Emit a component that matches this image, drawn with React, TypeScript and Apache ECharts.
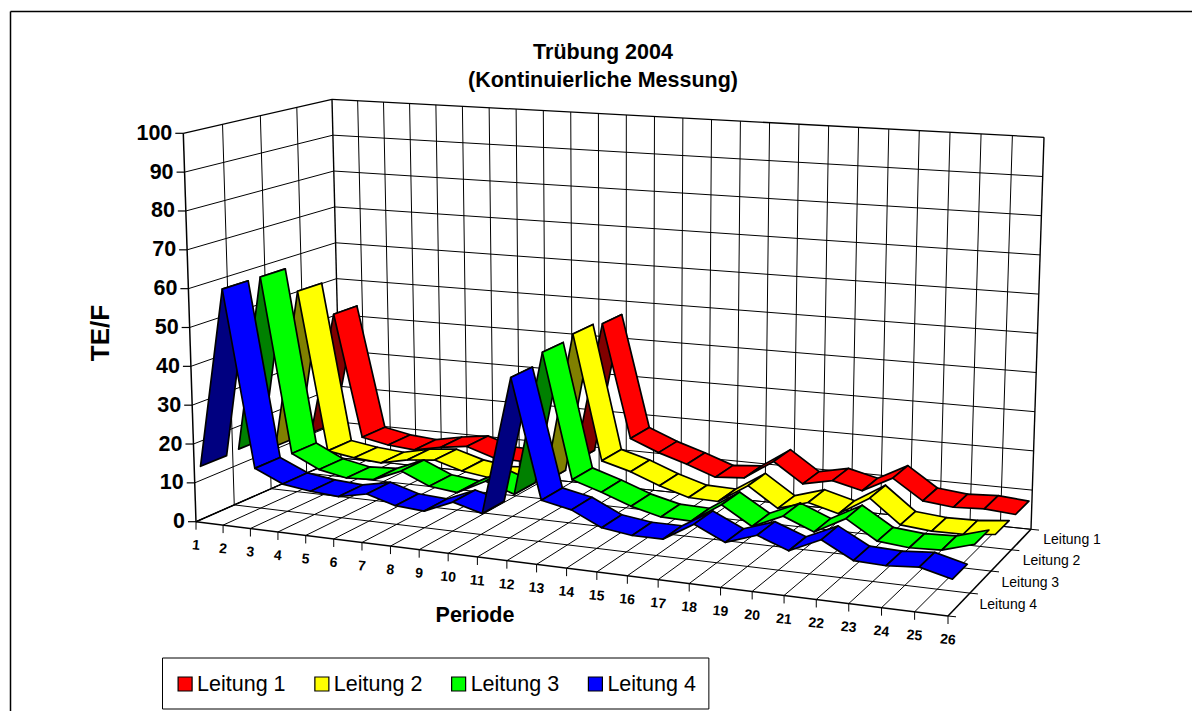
import React, { useEffect, useRef } from "react";
import * as echarts from "echarts";

const periods = Array.from({ length: 26 }, (_, i) => String(i + 1));
const seriesNames = ["Leitung 1", "Leitung 2", "Leitung 3", "Leitung 4"];
const valueTicks = [0, 10, 20, 30, 40, 50, 60, 70, 80, 90, 100];

const leitung1 = [10.3, 43.5, 10.6, 9.2, 8.6, 10, 11, 8.7, 8.5, 10, 10, 47, 17.5, 14.5, 12.2, 9.6, 10.2, 15.2, 10.2, 11.8, 10, 14, 9, 8.2, 8.6, 8];
const leitung2 = [10.8, 53, 11, 9.9, 9.3, 10.9, 11.6, 9.5, 8.5, 9, 9, 48, 16, 14, 11.2, 9, 8.8, 13.6, 8.7, 11, 9, 13.7, 7.9, 7.2, 7.3, 8.1];
const leitung3 = [14, 60, 14.4, 11, 9.6, 10, 13, 9.9, 9.1, 12.8, 10.3, 47, 15.6, 13.3, 10.6, 8.8, 8.6, 13.5, 9, 12.4, 9.4, 13.5, 8.9, 8.2, 8.5, 10.8];
const leitung4 = [13.6, 60, 14.7, 11.5, 10.5, 10, 11.5, 9.4, 8.9, 12, 10, 44.5, 15, 13.5, 10, 9, 9, 13.5, 10, 12.6, 9.8, 13.3, 9.3, 9, 9.6, 7.7];
const allValues = [leitung1, leitung2, leitung3, leitung4];

const bright = ["#ff0000", "#ffff00", "#00ff00", "#0000ff"];
const dark = ["#800000", "#808000", "#008000", "#000080"];

// projection calibration: screen position of the box corners (front-left, front-right, back-right, back-left)
const floorCorners = [[196, 521.7], [948, 616], [1031, 529.3], [341, 458]];
const topCorners = [[183.3, 133.3], [959, 185], [1044, 137.3], [332, 99.3]];
const MAXU = 25, MAXV = 4, MAXH = 100, HALF = 0.34;
const widthPersp = 1.115, depthPersp = 0.93;

const warp = (s: number, r: number) => s / (s + r * (1 - s));
const mix = (a: number[], b: number[], k: number) => [a[0] + (b[0] - a[0]) * k, a[1] + (b[1] - a[1]) * k];
const quadMap = (q: number[][], u: number, v: number) => {
  const s = warp(u / MAXU, widthPersp);
  const t = warp(v / MAXV, depthPersp);
  return mix(mix(q[0], q[1], s), mix(q[3], q[2], s), t);
};
const project = (u: number, v: number, val: number) =>
  mix(quadMap(floorCorners, u, v), quadMap(topCorners, u, v), val / MAXH);

function area(p: number[][]) {
  let s = 0;
  for (let i = 0; i < p.length; i++) {
    const q = p[(i + 1) % p.length];
    s += p[i][0] * q[1] - q[0] * p[i][1];
  }
  return s;
}

const line = (a: number[], b: number[], w = 1, z = 0) => ({
  type: "line",
  z,
  silent: true,
  shape: { x1: a[0], y1: a[1], x2: b[0], y2: b[1] },
  style: { stroke: "#000", lineWidth: w },
});
const label = (x: number, y: number, text: string, font: string, align = "center", rotation = 0) => ({
  type: "text",
  x,
  y,
  rotation,
  silent: true,
  style: { text, font, fill: "#000", align, verticalAlign: "middle" },
});

function boxElements() {
  const els: any[] = [];
  // outer chart frame
  els.push(line([10.5, 11.5], [1192, 11.5], 1.5), line([10.5, 11.5], [10.5, 711], 1.5));
  // back wall and left wall
  valueTicks.forEach((t) => {
    const w = t === 100 ? 1.3 : 1;
    els.push(line(project(0, MAXV, t), project(MAXU, MAXV, t), w));
    els.push(line(project(0, 0, t), project(0, MAXV, t), w));
  });
  periods.forEach((_, u) => els.push(line(project(u, MAXV, 0), project(u, MAXV, 100), u === 0 || u === MAXU ? 1.4 : 1)));
  [1, 2, 3].forEach((v) => els.push(line(project(0, v, 0), project(0, v, 100), 1)));
  // floor
  periods.forEach((_, u) => els.push(line(project(u, 0, 0), project(u, MAXV, 0), u === MAXU ? 1.6 : 1)));
  [0, 1, 2, 3, 4].forEach((v) => els.push(line(project(0, v, 0), project(MAXU, v, 0), v === 0 ? 1.5 : 1)));
  els.push(line(project(0, 0, 0), project(0, 0, 100), 1.5));
  els.push(line(project(0, 0, 0), project(0, MAXV, 0), 1.5));
  // ticks and labels
  valueTicks.forEach((t) => {
    const p = project(0, 0, t);
    els.push(line([p[0] - 8, p[1]], p, 1.2));
    els.push(label(p[0] - 11, p[1] - 0.5, String(t), "bold 21.5px 'Liberation Sans'", "right"));
  });
  periods.forEach((name, u) => {
    const p = project(u, 0, 0);
    els.push(line(p, [p[0], p[1] + 8], 1));
    els.push(label(p[0], p[1] + 23, name, "bold 14px 'Liberation Sans'", "center", -0.1));
  });
  [0, 1, 2, 3, 4].forEach((v) => {
    const p = project(MAXU, v, 0);
    els.push(line(p, [p[0] + 8, p[1] + 0.8], 1));
  });
  seriesNames.forEach((name, i) => {
    const p = project(MAXU, MAXV - i - 0.5, 0);
    els.push(label(p[0] + 22 - i * 0.5, p[1], name, "14px 'Liberation Sans'", "left"));
  });
  // titles
  els.push(label(603, 52, "Trübung 2004", "bold 21.5px 'Liberation Sans'"));
  els.push(label(603, 80, "(Kontinuierliche Messung)", "bold 21.5px 'Liberation Sans'"));
  els.push(label(475, 615, "Periode", "bold 21.5px 'Liberation Sans'"));
  els.push(label(100, 333, "TE/F", "bold 26px 'Liberation Sans'", "center", Math.PI / 2));
  return els;
}

function ribbonSeries(i: number) {
  const values = allValues[i];
  const centre = MAXV - i - 0.5;
  const data = values.slice(0, -1).map((val, u) => [u, val, values[u + 1]]);
  return {
    type: "custom",
    name: seriesNames[i],
    coordinateSystem: "none",
    silent: true,
    z: 2 + i,
    itemStyle: { color: bright[i] },
    data,
    renderItem: (_: any, api: any) => {
      const u = api.value(0), a = api.value(1), b = api.value(2);
      const corners = (p: number, q: number) => [
        project(u, centre - HALF, p),
        project(u, centre + HALF, p),
        project(u + 1, centre + HALF, q),
        project(u + 1, centre - HALF, q),
      ];
      const pts = corners(a, b);
      const ref = corners(0, 0);
      const topVisible = area(pts) * area(ref) > 0;
      return {
        type: "polygon",
        shape: { points: pts },
        style: { fill: topVisible ? bright[i] : dark[i], stroke: "#000", lineWidth: 1.7, lineJoin: "round" },
      };
    },
  };
}

export default function App() {
  const ref = useRef<HTMLDivElement>(null);
  useEffect(() => {
    document.body.style.margin = "0";
    const chart = echarts.init(ref.current!, undefined, { renderer: "svg" });
    chart.setOption({
      animation: false,
      backgroundColor: "#fff",
      legend: {
        left: 162.5,
        top: 658,
        orient: "horizontal",
        icon: "rect",
        itemWidth: 14,
        itemHeight: 14,
        itemGap: 28.7,
        padding: [15, 13, 14, 15],
        borderColor: "#000",
        borderWidth: 1,
        backgroundColor: "#fff",
        selectedMode: false,
        itemStyle: { borderColor: "#000", borderWidth: 1.2 },
        textStyle: { fontFamily: "Liberation Sans", fontSize: 21.5, color: "#000" },
        data: seriesNames,
      },
      graphic: { elements: boxElements() },
      series: seriesNames.map((_, i) => ribbonSeries(i)),
    });
    return () => chart.dispose();
  }, []);
  return <div ref={ref} style={{ width: 1192, height: 711, position: "absolute", left: 0, top: 0 }} />;
}
